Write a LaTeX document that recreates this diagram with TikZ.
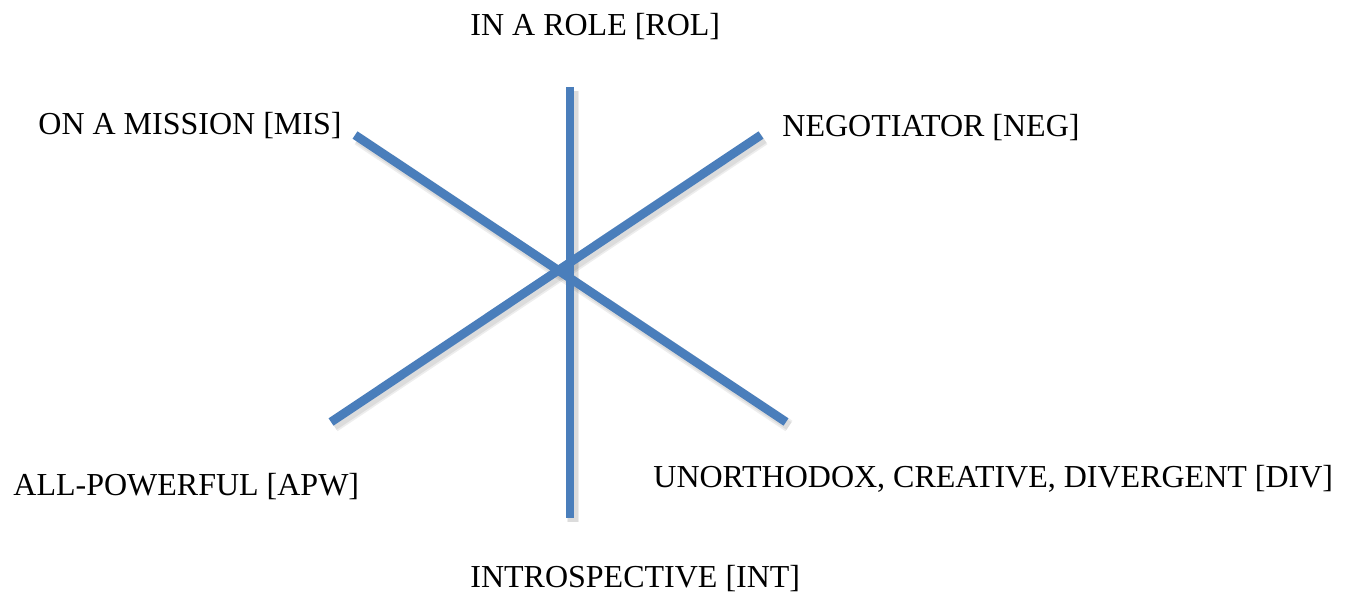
\documentclass[tikz,border=0pt]{standalone}
\usepackage{fontspec}
\setmainfont{Liberation Serif}
\usetikzlibrary{calc}
\definecolor{spokeblue}{RGB}{74,126,187}
\tikzset{
	spoke/.style={line width=1.55mm, draw=spokeblue},
	spokeshadow/.style={line width=2.2mm, draw=black, opacity=0.07, transform canvas={shift={(1.5pt,-2pt)}}},
	tag/.style={anchor=base west, inner sep=0pt, font=\fontsize{16}{19}\selectfont}
}

\begin{document}
\begin{tikzpicture}[x=0.5pt, y=-0.5pt]
		%%%%% START %%%%%
		\useasboundingbox (0, 0) rectangle (1354, 593);
		
		\coordinate (rol) at (570, 87);
		\coordinate (int) at (570, 518);
		\coordinate (mis) at (355, 135);
		\coordinate (div) at (786, 422);
		\coordinate (neg) at (761, 135);
		\coordinate (apw) at (331, 422);
		
		\draw[spokeshadow] (rol) -- (int);
		\draw[spokeshadow] (mis) -- (div);
		\draw[spokeshadow] (neg) -- (apw);
		\draw[spokeshadow, line width=1.6mm] (rol) -- (int);
		\draw[spokeshadow, line width=1.6mm] (mis) -- (div);
		\draw[spokeshadow, line width=1.6mm] (neg) -- (apw);
		
		\draw[spoke] (rol) -- (int);
		\draw[spoke] (mis) -- (div);
		\draw[spoke] (neg) -- (apw);
		
		\node[tag] (rolText) at (470, 36) {IN A ROLE [ROL]};
		\node[tag] (misText) at (38, 135) {ON A MISSION [MIS]};
		\node[tag] (negText) at (782, 137) {NEGOTIATOR [NEG]};
		\node[tag] (apwText) at (13, 495) {ALL-POWERFUL [APW]};
		\node[tag] (divText) at (653, 487) {UNORTHODOX, CREATIVE, DIVERGENT [DIV]};
		\node[tag] (intText) at (470, 587) {INTROSPECTIVE [INT]};
		
		%%%%% END %%%%%
	\end{tikzpicture}
\end{document}
